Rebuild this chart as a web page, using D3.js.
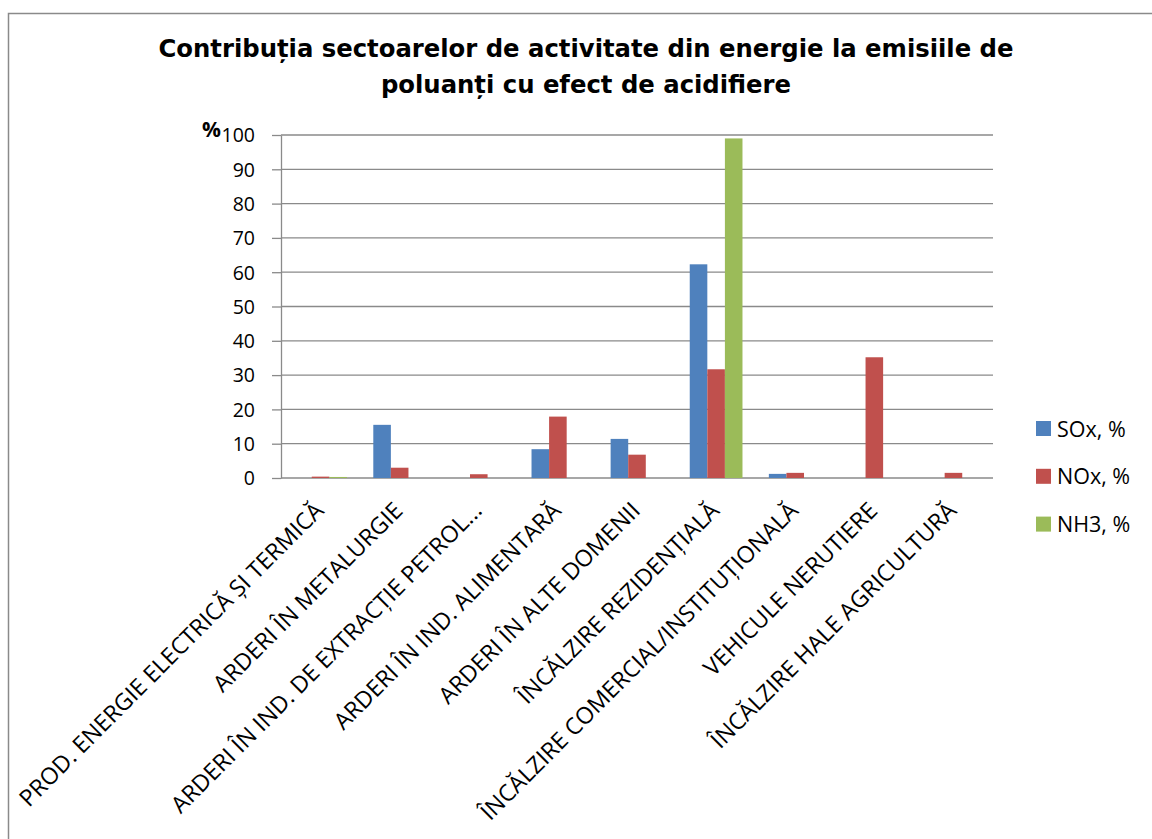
<!DOCTYPE html>
<html><head><meta charset="utf-8">
<script src="https://cdn.jsdelivr.net/npm/d3@7"></script>
<style>body{margin:0;background:#fff} svg{display:block}</style>
</head><body>
<svg id="c" width="1152" height="839"></svg>
<script>
const categories = [
  "PROD. ENERGIE ELECTRICĂ ȘI TERMICĂ",
  "ARDERI ÎN METALURGIE",
  "ARDERI ÎN IND. DE EXTRACȚIE PETROL...",
  "ARDERI ÎN IND. ALIMENTARĂ",
  "ARDERI ÎN ALTE DOMENII",
  "ÎNCĂLZIRE REZIDENȚIALĂ",
  "ÎNCĂLZIRE COMERCIAL/INSTITUȚIONALĂ",
  "VEHICULE NERUTIERE",
  "ÎNCĂLZIRE HALE AGRICULTURĂ"
];
const seriesNames = ["SOx, %", "NOx, %", "NH3, %"];
const soxValues = [0, 15.5, 0, 8.4, 11.4, 62.3, 1.2, 0, 0];
const noxValues = [0.4, 3.0, 1.1, 17.9, 6.8, 31.7, 1.5, 35.2, 1.5];
const nh3Values = [0.3, 0, 0, 0, 0, 99.0, 0, 0, 0];
const yTicks = [0, 10, 20, 30, 40, 50, 60, 70, 80, 90, 100];
const titleLines = [
  "Contribuția sectoarelor de activitate din energie la emisiile de",
  "poluanți cu efect de acidifiere"
];
const yUnit = "%";

const colors = ["#4F81BD", "#C0504D", "#9BBB59"];
const seriesValues = [soxValues, noxValues, nh3Values];
const FONT = "'Open Sans', sans-serif";

const svg = d3.select("#c");
svg.append("rect").attr("x", 8.5).attr("y", 13.5).attr("width", 1200).attr("height", 900)
  .attr("fill", "#fff").attr("stroke", "#8a8a8a").attr("stroke-width", 1.5);

const plot = {left: 281, right: 993, top: 135, bottom: 478};
const x0 = d3.scaleBand().domain(categories).range([plot.left, plot.right]).padding(0);
const bw = x0.bandwidth();
const barW = bw / 4.5;
const x1 = d3.scaleBand().domain(seriesNames).range([0.75 * barW, bw - 0.75 * barW]).padding(0);
const y = d3.scaleLinear().domain([0, 100]).range([plot.bottom, plot.top]);

svg.append("g").selectAll("line").data(yTicks).join("line")
  .attr("x1", plot.left).attr("x2", plot.right)
  .attr("y1", d => y(d)).attr("y2", d => y(d))
  .attr("stroke", "#8a8a8a").attr("stroke-width", 1.3);

const groups = svg.append("g").selectAll("g").data(categories).join("g")
  .attr("transform", d => `translate(${x0(d)},0)`);
groups.selectAll("rect").data((d, i) => seriesNames.map((s, k) => ({s, k, v: seriesValues[k][i]})))
  .join("rect")
  .attr("x", d => x1(d.s)).attr("width", x1.bandwidth())
  .attr("y", d => y(d.v)).attr("height", d => y(0) - y(d.v))
  .attr("fill", d => colors[d.k]);

const yAxis = svg.append("g").attr("transform", `translate(${plot.left},0)`)
  .call(d3.axisLeft(y).tickValues(yTicks).tickSize(9).tickSizeOuter(0).tickPadding(17));
yAxis.select(".domain").attr("stroke", "#8a8a8a").attr("stroke-width", 1.3);
yAxis.selectAll(".tick line").attr("stroke", "#8a8a8a").attr("stroke-width", 1.3);
yAxis.selectAll(".tick text").attr("font-family", FONT).attr("font-size", 19.5).attr("fill", "#000").attr("dy", "0.35em");

svg.append("text").attr("x", 202).attr("y", 137).text(yUnit)
  .attr("font-family", FONT).attr("font-weight", "bold").attr("font-size", 21).attr("fill", "#000");

// category labels: rotated -45°, ending just right of each category centre
const xAxis = svg.append("g").call(d3.axisBottom(x0).tickSize(0));
xAxis.select(".domain").remove();
const lbl = xAxis.selectAll(".tick text")
  .attr("font-family", FONT).attr("font-size", 18).attr("fill", "#000")
  .attr("x", 0).attr("y", 0).attr("dy", 0)
  .attr("text-anchor", "end")
  .attr("transform", "translate(4.5,512) rotate(-45)");
const natural = lbl.nodes()[0].getComputedTextLength();
lbl.attr("font-size", 18 * 419 / natural);

const leg = svg.append("g").selectAll("g").data(seriesNames).join("g")
  .attr("transform", (d, i) => `translate(1036,${421 + i * 47.8})`);
leg.append("rect").attr("width", 15).attr("height", 15).attr("fill", (d, i) => colors[i]);
leg.append("text").attr("x", 21).attr("y", 15.5).text(d => d)
  .attr("font-family", FONT).attr("font-size", 21.5).attr("fill", "#000");

const tl = svg.append("g").selectAll("text").data(titleLines).join("text")
  .attr("x", 586).attr("y", (d, i) => 57 + i * 36)
  .attr("text-anchor", "middle")
  .attr("font-family", "'DejaVu Sans', sans-serif").attr("font-weight", "bold").attr("font-size", 24)
  .attr("fill", "#000").text(d => d);
const n0 = tl.nodes()[0].getComputedTextLength();
const k = 855 / n0;
tl.each(function () {
  const w = this.getComputedTextLength();
  d3.select(this).attr("textLength", w * k).attr("lengthAdjust", "spacingAndGlyphs");
});
</script>
</body></html>
